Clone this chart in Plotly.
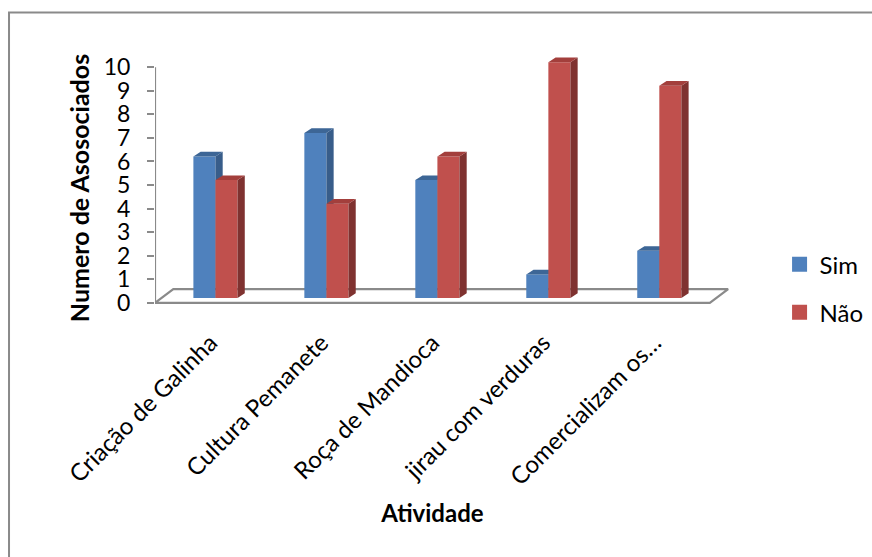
import plotly.graph_objects as go

categories = ["Criação de Galinha", "Cultura Pemanete", "Roça de Mandioca",
              "jirau com verduras", "Comercializam os…"]
sim_values = [6, 7, 5, 1, 2]
nao_values = [5, 4, 6, 10, 9]
y_ticks = list(range(0, 11))

FONT = "Lato"
TEXT = "#000000"
AXIS = "#8a8a8a"
SIM = dict(front="#4f81bd", side="#385d8a", top="#3d6696")
NAO = dict(front="#c0504d", side="#7f3230", top="#a33f3c")

# Oblique projection, in axis units (one group wide, one count tall)
X_END = 5
X_RANGE = (0, X_END)
X_RANGE_DEPTH = (0, 5.2)  # wider so the floor's back edge has room
Y_RANGE = (-0.85, 10.6)
FLOOR_DX, FLOOR_DY = 0.165, 0.59
BAR_X, BAR_Y = 0.045, 0.21
DEPTH_X, DEPTH_Y = 0.065, 0.2
BAR_W = 0.199


def extrusion(values, offset, colors, xaxis, yaxis):
    """Front face as a bar, side and top faces as filled polygons."""
    xs = [i + 0.5 + BAR_X + offset for i in range(len(values))]
    bars = go.Bar(x=xs, y=values, base=[BAR_Y] * len(values), width=BAR_W,
                  marker=dict(color=colors["front"], line=dict(width=0)),
                  hoverinfo="skip", showlegend=False, xaxis=xaxis, yaxis=yaxis)
    sx, sy, tx, ty = [], [], [], []
    for x, v in zip(xs, values):
        l, r = x - BAR_W / 2, x + BAR_W / 2
        t = v + BAR_Y
        sx += [r, r + DEPTH_X, r + DEPTH_X, r, r, None]
        sy += [BAR_Y, BAR_Y + DEPTH_Y, t + DEPTH_Y, t, BAR_Y, None]
        tx += [l, l + DEPTH_X, r + DEPTH_X, r, l, None]
        ty += [t, t + DEPTH_Y, t + DEPTH_Y, t, t, None]
    faces = [
        go.Scatter(x=px, y=py, mode="lines", fill="toself", fillcolor=c,
                   line=dict(width=0), hoverinfo="skip", showlegend=False,
                   xaxis=xaxis, yaxis=yaxis)
        for px, py, c in ((sx, sy, colors["side"]), (tx, ty, colors["top"]))
    ]
    return [bars] + faces


fig = go.Figure()

# Legend entries live on the labelled axes
for name, color in (("Sim", SIM["front"]), ("Não", NAO["front"])):
    fig.add_trace(go.Scatter(x=[None], y=[None], mode="markers", name=name, legendgroup=name,
                             marker=dict(symbol="square", size=15, color=color)))

# Value axis line and chart floor, stacked below the bars
fig.add_trace(go.Scatter(
    x=[0, 0, FLOOR_DX, X_END + FLOOR_DX, X_END, 0],
    y=[y_ticks[-1], 0, FLOOR_DY, FLOOR_DY, 0, 0],
    mode="lines", line=dict(color=AXIS, width=2.2),
    hoverinfo="skip", showlegend=False, cliponaxis=False, xaxis="x2", yaxis="y2"))

fig.add_traces(extrusion(sim_values, -BAR_W / 2, SIM, "x3", "y3"))
fig.add_traces(extrusion(nao_values, BAR_W / 2, NAO, "x4", "y4"))

hidden_x = dict(range=X_RANGE_DEPTH, domain=[0, 1], visible=False, fixedrange=True)
hidden_y = dict(range=Y_RANGE, visible=False, fixedrange=True)
fig.update_layout(
    width=872, height=557, autosize=False,
    margin=dict(l=155, r=140, t=52.5, b=234, autoexpand=False),
    paper_bgcolor="rgba(255,255,255,1)", plot_bgcolor="rgba(0,0,0,0)",
    font=dict(family=FONT, size=24, color=TEXT),
    xaxis=dict(range=X_RANGE, domain=[0, X_RANGE[1] / X_RANGE_DEPTH[1]], tickmode="array",
               tickvals=[i + 0.5 for i in range(len(categories))],
               ticktext=categories, tickangle=-45, showgrid=False, zeroline=False,
               showline=False, ticks="", tickfont=dict(size=24), fixedrange=True,
               title=dict(text="<b>Atividade</b>", font=dict(size=24), standoff=15)),
    yaxis=dict(range=Y_RANGE, tickmode="array", tickvals=y_ticks,
               showgrid=False, zeroline=False, showline=False,
               ticks="outside", ticklen=7, tickcolor=AXIS, tickwidth=2,
               ticklabelstandoff=12, tickfont=dict(size=23), fixedrange=True,
               title=dict(text="<b>Numero de Asosociados</b>", font=dict(size=25), standoff=6)),
    xaxis2=dict(hidden_x, anchor="y2"), yaxis2=dict(hidden_y, anchor="x2"),
    xaxis3=dict(hidden_x, anchor="y3"), yaxis3=dict(hidden_y, anchor="x3"),
    xaxis4=dict(hidden_x, anchor="y4"), yaxis4=dict(hidden_y, anchor="x4"),
    barmode="overlay",
    legend=dict(x=0.894, xref="container", xanchor="left", y=0.5654, yref="container", yanchor="top",
                font=dict(size=24), bgcolor="rgba(0,0,0,0)", tracegroupgap=14, itemwidth=30),
    shapes=[dict(type="rect", xref="paper", yref="paper", x0=-0.253, x1=1.5, y0=-1.5, y1=1.15,
                 line=dict(color=AXIS, width=2), fillcolor="rgba(0,0,0,0)", layer="below")],
)

fig.write_html("out.html")
